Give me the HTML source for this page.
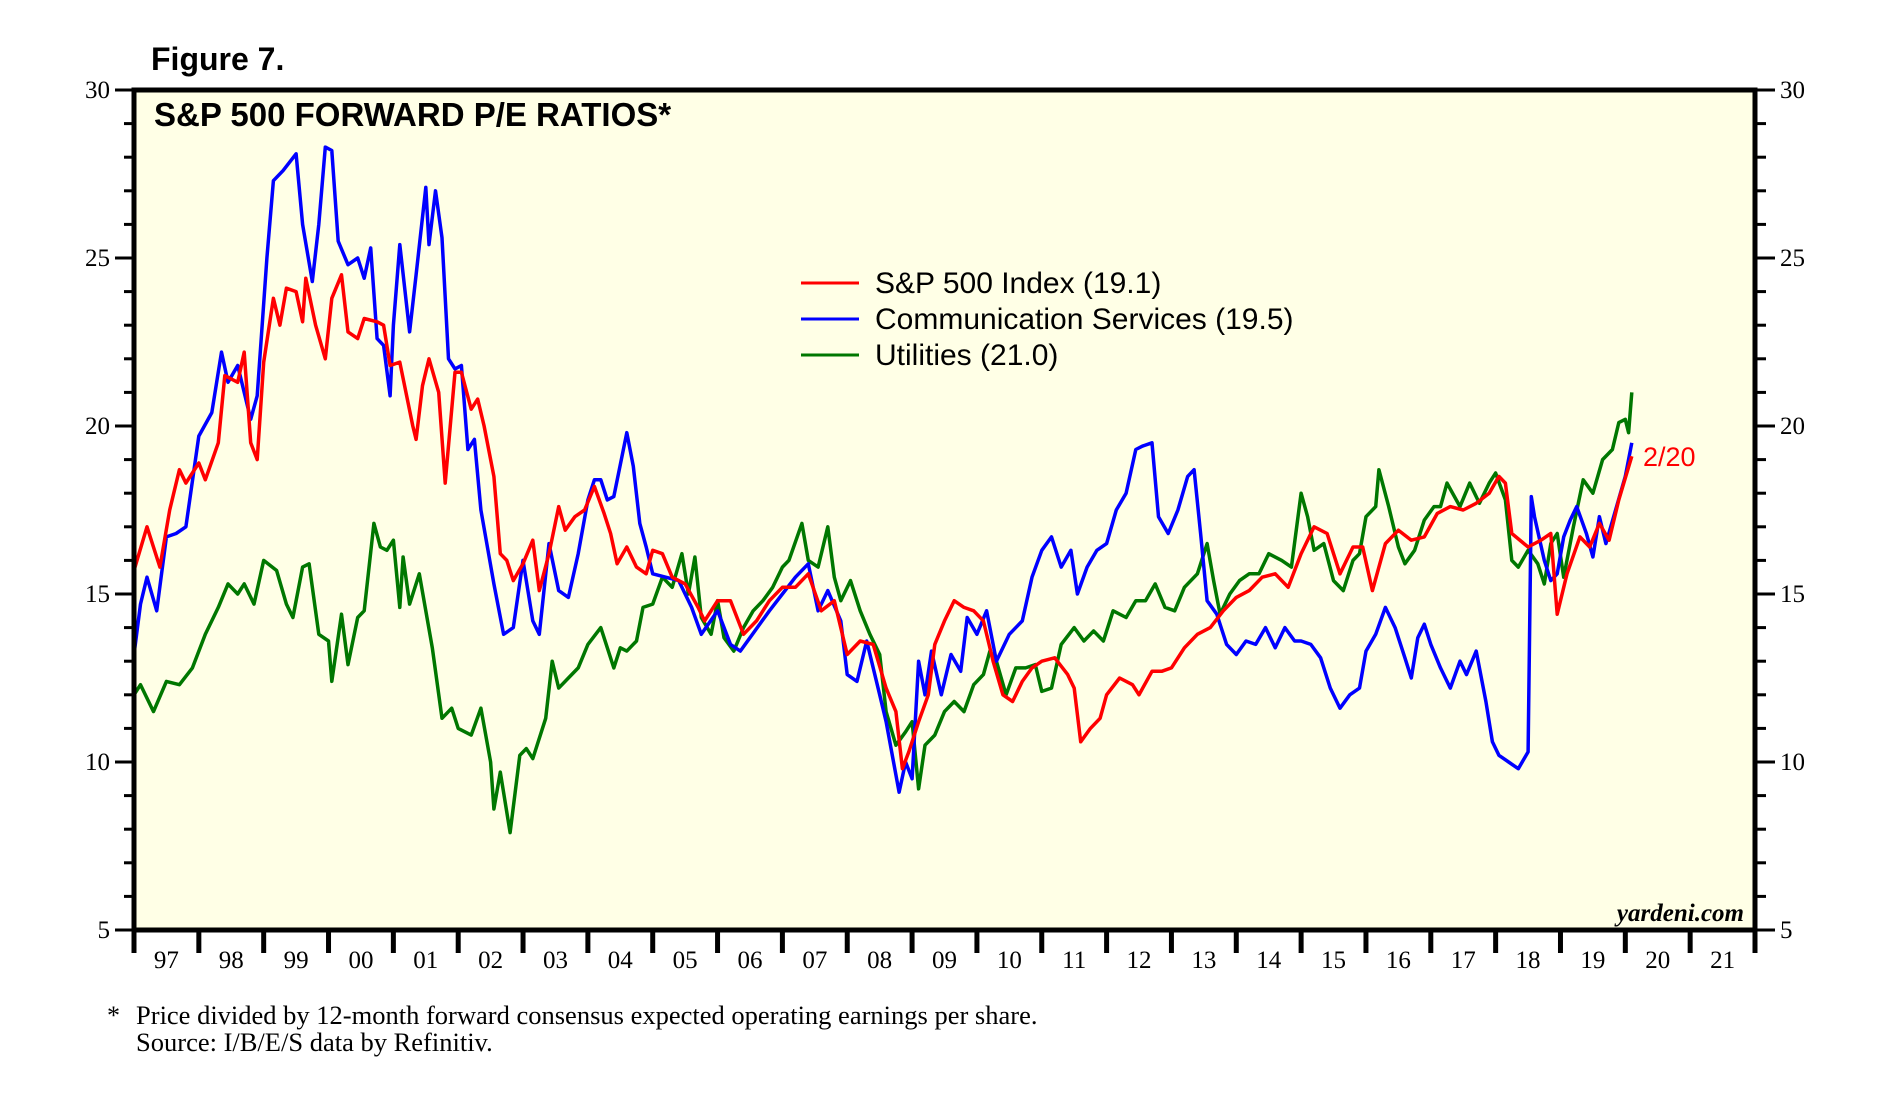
<!DOCTYPE html>
<html><head><meta charset="utf-8"><style>
body{margin:0;background:#fff;}
svg text{font-family:"Liberation Sans",sans-serif;}
</style></head><body>
<svg id="chart" width="1893" height="1098" viewBox="0 0 1893 1098" xmlns="http://www.w3.org/2000/svg">
<text x="151" y="70" font-size="32" font-weight="bold">Figure 7.</text>
<rect x="134" y="90" width="1621" height="840" fill="#ffffe6"/>
<g id="marks"></g>
<g id="axes"></g>
<rect x="134" y="90" width="1621" height="840" fill="none" stroke="#000" stroke-width="5"/>
<text x="154" y="126" font-size="33" font-weight="bold">S&amp;P 500 FORWARD P/E RATIOS*</text>
<g>
<line x1="801" y1="283" x2="859" y2="283" stroke="#ff0000" stroke-width="3"/>
<text x="875" y="293" font-size="30">S&amp;P 500 Index (19.1)</text>
<line x1="801" y1="319" x2="859" y2="319" stroke="#0000ff" stroke-width="3"/>
<text x="875" y="329" font-size="30">Communication Services (19.5)</text>
<line x1="801" y1="355" x2="859" y2="355" stroke="#007700" stroke-width="3"/>
<text x="875" y="365" font-size="30">Utilities (21.0)</text>
</g>
<text x="1643" y="466" font-size="27" fill="#ff0000">2/20</text>
<text x="1744" y="921" font-size="25" font-weight="bold" font-style="italic" text-anchor="end" style="font-family:'Liberation Serif',serif">yardeni.com</text>
<text x="107" y="1024" font-size="26" style="font-family:'Liberation Serif',serif">*</text>
<text x="136" y="1024" font-size="26.5" style="font-family:'Liberation Serif',serif">Price divided by 12-month forward consensus expected operating earnings per share.</text>
<text x="136" y="1051" font-size="26.5" style="font-family:'Liberation Serif',serif">Source: I/B/E/S data by Refinitiv.</text>
</svg>
<script>
const yTicks = [5,10,15,20,25,30];
const xYearLabels = ["97","98","99","00","01","02","03","04","05","06","07","08","09","10","11","12","13","14","15","16","17","18","19","20","21"];
const spDates = [1997.0,1997.2,1997.4,1997.55,1997.7,1997.8,1998.0,1998.1,1998.3,1998.4,1998.6,1998.7,1998.8,1998.9,1999.0,1999.15,1999.25,1999.35,1999.5,1999.6,1999.65,1999.8,1999.95,2000.05,2000.2,2000.3,2000.45,2000.55,2000.75,2000.85,2000.95,2001.1,2001.3,2001.35,2001.45,2001.55,2001.7,2001.8,2001.95,2002.05,2002.2,2002.3,2002.4,2002.55,2002.65,2002.75,2002.85,2003.0,2003.15,2003.25,2003.4,2003.55,2003.65,2003.8,2003.95,2004.1,2004.25,2004.35,2004.45,2004.6,2004.75,2004.9,2005.0,2005.15,2005.3,2005.5,2005.7,2005.8,2006.0,2006.2,2006.4,2006.6,2006.8,2007.0,2007.2,2007.4,2007.6,2007.8,2008.0,2008.2,2008.4,2008.6,2008.75,2008.85,2008.95,2009.1,2009.25,2009.35,2009.5,2009.65,2009.8,2009.95,2010.1,2010.25,2010.4,2010.55,2010.7,2010.85,2011.0,2011.2,2011.4,2011.5,2011.6,2011.75,2011.9,2012.0,2012.2,2012.4,2012.5,2012.7,2012.85,2013.0,2013.2,2013.4,2013.6,2013.8,2014.0,2014.2,2014.4,2014.6,2014.8,2015.0,2015.2,2015.4,2015.6,2015.8,2015.95,2016.1,2016.3,2016.5,2016.7,2016.9,2017.1,2017.3,2017.5,2017.7,2017.9,2018.05,2018.15,2018.25,2018.5,2018.7,2018.85,2018.95,2019.1,2019.3,2019.45,2019.6,2019.75,2019.9,2020.1];
const spValues = [15.7,17.0,15.8,17.5,18.7,18.3,18.9,18.4,19.5,21.5,21.3,22.2,19.5,19.0,21.9,23.8,23.0,24.1,24.0,23.1,24.4,23.0,22.0,23.8,24.5,22.8,22.6,23.2,23.1,23.0,21.8,21.9,20.0,19.6,21.2,22.0,21.0,18.3,21.6,21.6,20.5,20.8,20.0,18.5,16.2,16.0,15.4,15.9,16.6,15.1,16.2,17.6,16.9,17.3,17.5,18.2,17.4,16.8,15.9,16.4,15.8,15.6,16.3,16.2,15.5,15.3,14.6,14.2,14.8,14.8,13.8,14.2,14.8,15.2,15.2,15.6,14.5,14.8,13.2,13.6,13.5,12.2,11.5,9.8,10.3,11.2,12.0,13.5,14.2,14.8,14.6,14.5,14.2,13.0,12.0,11.8,12.4,12.8,13.0,13.1,12.6,12.2,10.6,11.0,11.3,12.0,12.5,12.3,12.0,12.7,12.7,12.8,13.4,13.8,14.0,14.5,14.9,15.1,15.5,15.6,15.2,16.2,17.0,16.8,15.6,16.4,16.4,15.1,16.5,16.9,16.6,16.7,17.4,17.6,17.5,17.7,18.0,18.5,18.3,16.8,16.4,16.6,16.8,14.4,15.6,16.7,16.4,17.1,16.6,17.8,19.1];
const commDates = [1997.0,1997.1,1997.2,1997.35,1997.5,1997.65,1997.8,1998.0,1998.2,1998.35,1998.45,1998.6,1998.8,1998.9,1999.05,1999.15,1999.3,1999.5,1999.6,1999.75,1999.85,1999.95,2000.05,2000.15,2000.3,2000.45,2000.55,2000.65,2000.75,2000.85,2000.95,2001.0,2001.1,2001.25,2001.35,2001.5,2001.55,2001.65,2001.75,2001.85,2001.95,2002.05,2002.15,2002.25,2002.35,2002.55,2002.7,2002.85,2003.0,2003.15,2003.25,2003.4,2003.55,2003.7,2003.85,2004.0,2004.1,2004.2,2004.3,2004.4,2004.6,2004.7,2004.8,2004.9,2005.0,2005.2,2005.4,2005.6,2005.75,2006.0,2006.2,2006.35,2006.5,2006.8,2007.0,2007.2,2007.4,2007.55,2007.7,2007.9,2008.0,2008.15,2008.3,2008.5,2008.6,2008.8,2008.9,2009.0,2009.1,2009.2,2009.3,2009.45,2009.6,2009.75,2009.85,2010.0,2010.15,2010.3,2010.5,2010.7,2010.85,2011.0,2011.15,2011.3,2011.45,2011.55,2011.7,2011.85,2012.0,2012.15,2012.3,2012.45,2012.55,2012.7,2012.8,2012.95,2013.1,2013.25,2013.35,2013.45,2013.55,2013.7,2013.85,2014.0,2014.15,2014.3,2014.45,2014.6,2014.75,2014.9,2015.0,2015.15,2015.3,2015.45,2015.6,2015.75,2015.9,2016.0,2016.15,2016.3,2016.45,2016.6,2016.7,2016.8,2016.9,2017.0,2017.15,2017.3,2017.45,2017.55,2017.7,2017.85,2017.95,2018.05,2018.2,2018.35,2018.5,2018.55,2018.6,2018.75,2018.85,2018.95,2019.05,2019.15,2019.25,2019.4,2019.5,2019.6,2019.7,2019.85,2020.0,2020.1];
const commValues = [13.2,14.7,15.5,14.5,16.7,16.8,17.0,19.7,20.4,22.2,21.3,21.8,20.2,20.9,25.0,27.3,27.6,28.1,26.0,24.3,26.0,28.3,28.2,25.5,24.8,25.0,24.4,25.3,22.6,22.4,20.9,23.0,25.4,22.8,24.5,27.1,25.4,27.0,25.6,22.0,21.7,21.8,19.3,19.6,17.5,15.3,13.8,14.0,16.0,14.2,13.8,16.5,15.1,14.9,16.2,17.8,18.4,18.4,17.8,17.9,19.8,18.8,17.1,16.4,15.6,15.5,15.4,14.6,13.8,14.5,13.5,13.3,13.7,14.5,15.0,15.5,15.9,14.5,15.1,14.2,12.6,12.4,13.6,12.0,11.2,9.1,10.0,9.5,13.0,12.0,13.3,12.0,13.2,12.7,14.3,13.8,14.5,13.0,13.8,14.2,15.5,16.3,16.7,15.8,16.3,15.0,15.8,16.3,16.5,17.5,18.0,19.3,19.4,19.5,17.3,16.8,17.5,18.5,18.7,16.8,14.8,14.4,13.5,13.2,13.6,13.5,14.0,13.4,14.0,13.6,13.6,13.5,13.1,12.2,11.6,12.0,12.2,13.3,13.8,14.6,14.0,13.1,12.5,13.7,14.1,13.5,12.8,12.2,13.0,12.6,13.3,11.8,10.6,10.2,10.0,9.8,10.3,17.9,17.3,16.0,15.4,15.6,16.7,17.2,17.6,16.8,16.1,17.3,16.5,17.5,18.5,19.5];
const utilDates = [1997.0,1997.1,1997.3,1997.5,1997.7,1997.9,1998.1,1998.3,1998.45,1998.6,1998.7,1998.85,1999.0,1999.2,1999.35,1999.45,1999.6,1999.7,1999.85,2000.0,2000.05,2000.2,2000.3,2000.45,2000.55,2000.7,2000.8,2000.9,2001.0,2001.1,2001.15,2001.25,2001.4,2001.6,2001.75,2001.9,2002.0,2002.2,2002.35,2002.5,2002.55,2002.65,2002.8,2002.95,2003.05,2003.15,2003.35,2003.45,2003.55,2003.7,2003.85,2004.0,2004.2,2004.4,2004.5,2004.6,2004.75,2004.85,2005.0,2005.15,2005.3,2005.45,2005.55,2005.65,2005.75,2005.9,2006.0,2006.1,2006.25,2006.4,2006.55,2006.7,2006.85,2007.0,2007.1,2007.3,2007.4,2007.55,2007.7,2007.8,2007.9,2008.05,2008.2,2008.35,2008.5,2008.6,2008.75,2008.9,2009.0,2009.1,2009.2,2009.35,2009.5,2009.65,2009.8,2009.95,2010.1,2010.2,2010.3,2010.45,2010.6,2010.75,2010.9,2011.0,2011.15,2011.3,2011.5,2011.65,2011.8,2011.95,2012.1,2012.3,2012.45,2012.6,2012.75,2012.9,2013.05,2013.2,2013.4,2013.55,2013.65,2013.75,2013.9,2014.05,2014.2,2014.35,2014.5,2014.7,2014.85,2015.0,2015.1,2015.2,2015.35,2015.5,2015.65,2015.8,2015.9,2016.0,2016.15,2016.2,2016.35,2016.5,2016.6,2016.75,2016.9,2017.05,2017.15,2017.25,2017.45,2017.6,2017.75,2017.9,2018.0,2018.15,2018.25,2018.35,2018.5,2018.65,2018.75,2018.85,2018.95,2019.05,2019.2,2019.35,2019.5,2019.65,2019.8,2019.9,2020.0,2020.05,2020.1];
const utilValues = [12.0,12.3,11.5,12.4,12.3,12.8,13.8,14.6,15.3,15.0,15.3,14.7,16.0,15.7,14.7,14.3,15.8,15.9,13.8,13.6,12.4,14.4,12.9,14.3,14.5,17.1,16.4,16.3,16.6,14.6,16.1,14.7,15.6,13.4,11.3,11.6,11.0,10.8,11.6,10.0,8.6,9.7,7.9,10.2,10.4,10.1,11.3,13.0,12.2,12.5,12.8,13.5,14.0,12.8,13.4,13.3,13.6,14.6,14.7,15.5,15.2,16.2,15.0,16.1,14.3,13.8,14.8,13.7,13.3,14.0,14.5,14.8,15.2,15.8,16.0,17.1,16.0,15.8,17.0,15.5,14.8,15.4,14.5,13.8,13.2,11.5,10.5,10.9,11.2,9.2,10.5,10.8,11.5,11.8,11.5,12.3,12.6,13.3,13.0,12.0,12.8,12.8,12.9,12.1,12.2,13.5,14.0,13.6,13.9,13.6,14.5,14.3,14.8,14.8,15.3,14.6,14.5,15.2,15.6,16.5,15.4,14.4,15.0,15.4,15.6,15.6,16.2,16.0,15.8,18.0,17.3,16.3,16.5,15.4,15.1,16.0,16.2,17.3,17.6,18.7,17.6,16.4,15.9,16.3,17.2,17.6,17.6,18.3,17.6,18.3,17.7,18.3,18.6,17.8,16.0,15.8,16.3,15.9,15.3,16.5,16.8,15.5,17.0,18.4,18.0,19.0,19.3,20.1,20.2,19.8,21.0];

const NS = 'http://www.w3.org/2000/svg';
const L = 134, R = 1755, T = 90, B = 930;
const x0 = 1997, x1 = 2022, yMin = 5, yMax = 30;
function xScale(t){ return L + (t - x0) / (x1 - x0) * (R - L); }
function yScale(v){ return B - (v - yMin) / (yMax - yMin) * (B - T); }

const marks = document.getElementById('marks');
function drawSeries(dates, values, color, name){
  let d = '';
  for (let i = 0; i < dates.length; i++) {
    d += (i ? 'L' : 'M') + xScale(dates[i]).toFixed(1) + ',' + yScale(values[i]).toFixed(1);
  }
  const p = document.createElementNS(NS, 'path');
  p.setAttribute('d', d);
  p.setAttribute('fill', 'none');
  p.setAttribute('stroke', color);
  p.setAttribute('stroke-width', '3.5');
  p.setAttribute('stroke-linejoin', 'round');
  
  
  marks.appendChild(p);
}
drawSeries(utilDates, utilValues, '#007700', 'utilities-line');
drawSeries(commDates, commValues, '#0000ff', 'communication-services-line');
drawSeries(spDates, spValues, '#ff0000', 'sp500-line');

const axes = document.getElementById('axes');
function line(x1_, y1_, x2_, y2_, w){
  const l = document.createElementNS(NS, 'line');
  l.setAttribute('x1', x1_); l.setAttribute('y1', y1_);
  l.setAttribute('x2', x2_); l.setAttribute('y2', y2_);
  l.setAttribute('stroke', '#000'); l.setAttribute('stroke-width', w);
  
  
  axes.appendChild(l);
}
function text(x, y, s, anchor, name){
  const t = document.createElementNS(NS, 'text');
  t.setAttribute('x', x); t.setAttribute('y', y);
  t.setAttribute('text-anchor', anchor);
  t.setAttribute('font-size', '25');
  t.setAttribute('style', "font-family:'Liberation Serif',serif");
  t.textContent = s;
  
  
  axes.appendChild(t);
}
for (let v = yMin; v <= yMax; v++) {
  const y = yScale(v);
  const major = v % 5 === 0;
  line(major ? 115 : 124, y, L, y, 3);
  line(R, y, major ? 1775 : 1766, y, 3);
}
yTicks.forEach(v => {
  text(110, yScale(v) + 8, String(v), 'end', 'y-tick-label-left');
  text(1780, yScale(v) + 8, String(v), 'start', 'y-tick-label-right');
});
for (let i = 0; i <= xYearLabels.length; i++) {
  line(xScale(x0 + i), B, xScale(x0 + i), 953, 5);
}
xYearLabels.forEach((s, i) => {
  text(xScale(x0 + i + 0.5), 968, s, 'middle', 'x-tick-label');
});
</script>
</body></html>
